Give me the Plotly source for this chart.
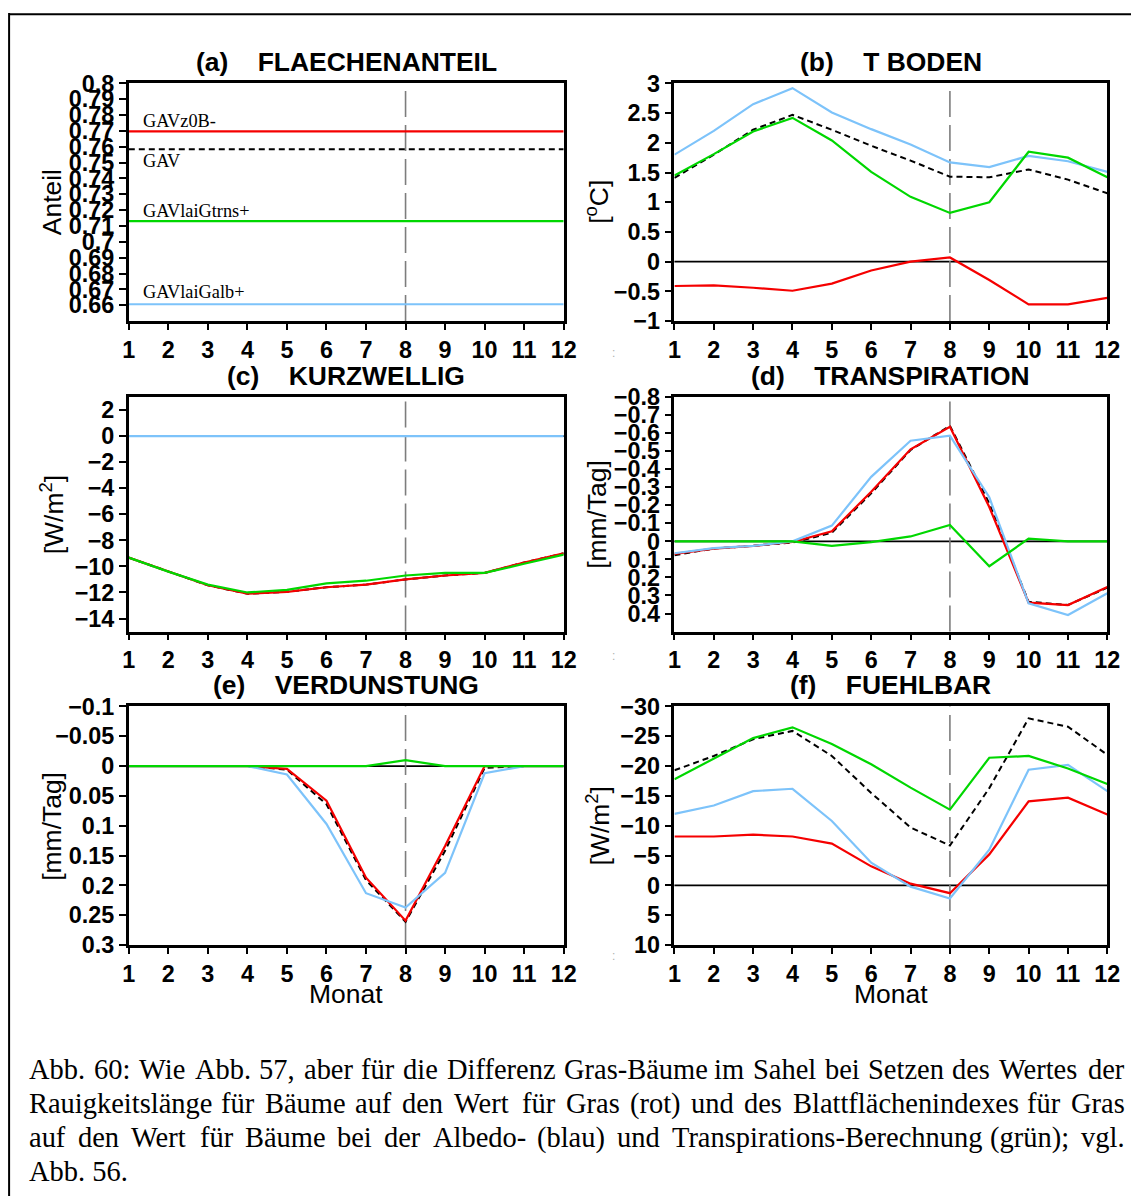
import plotly.graph_objects as go

# ---------------- data ----------------
months = [1, 2, 3, 4, 5, 6, 7, 8, 9, 10, 11, 12]
month_labels = ["1", "2", "3", "4", "5", "6", "7", "8", "9", "10", "11", "12"]

# (a) FLAECHENANTEIL
a_gav = [0.7585, 0.7585, 0.7585, 0.7585, 0.7585, 0.7585, 0.7585, 0.7585, 0.7585, 0.7585, 0.7585, 0.7585]
a_z0b = [0.7697, 0.7697, 0.7697, 0.7697, 0.7697, 0.7697, 0.7697, 0.7697, 0.7697, 0.7697, 0.7697, 0.7697]
a_galb = [0.6606, 0.6606, 0.6606, 0.6606, 0.6606, 0.6606, 0.6606, 0.6606, 0.6606, 0.6606, 0.6606, 0.6606]
a_gtrns = [0.7131, 0.7131, 0.7131, 0.7131, 0.7131, 0.7131, 0.7131, 0.7131, 0.7131, 0.7131, 0.7131, 0.7131]

# (b) T BODEN
b_gav = [1.41, 1.80, 2.22, 2.47, 2.22, 1.95, 1.70, 1.43, 1.42, 1.55, 1.38, 1.15]
b_z0b = [-0.41, -0.40, -0.44, -0.49, -0.37, -0.15, 0.00, 0.07, -0.31, -0.72, -0.72, -0.61]
b_galb = [1.80, 2.20, 2.65, 2.92, 2.51, 2.23, 1.97, 1.67, 1.59, 1.78, 1.69, 1.51]
b_gtrns = [1.45, 1.81, 2.19, 2.42, 2.04, 1.51, 1.09, 0.82, 1.00, 1.85, 1.75, 1.42]

# (c) KURZWELLIG
c_gav = [-9.33, -10.40, -11.45, -12.10, -11.95, -11.60, -11.40, -11.00, -10.70, -10.50, -9.70, -9.00]
c_z0b = [-9.33, -10.40, -11.45, -12.10, -11.95, -11.60, -11.40, -11.00, -10.70, -10.50, -9.70, -9.00]
c_galb = [0, 0, 0, 0, 0, 0, 0, 0, 0, 0, 0, 0]
c_gtrns = [-9.33, -10.40, -11.40, -12.00, -11.80, -11.30, -11.10, -10.70, -10.50, -10.50, -9.80, -9.10]

# (d) TRANSPIRATION
d_gav = [0.077, 0.040, 0.025, 0.007, -0.047, -0.266, -0.506, -0.640, -0.210, 0.335, 0.353, 0.257]
d_z0b = [0.070, 0.040, 0.025, 0.004, -0.055, -0.275, -0.510, -0.634, -0.190, 0.340, 0.353, 0.253]
d_galb = [0.066, 0.038, 0.025, 0.000, -0.087, -0.357, -0.557, -0.585, -0.244, 0.344, 0.408, 0.288]
d_gtrns = [0, 0, 0, 0, 0.025, 0.004, -0.027, -0.091, 0.138, -0.015, 0, 0]

# (e) VERDUNSTUNG
e_gav = [0, 0, 0, 0, 0.006, 0.064, 0.191, 0.261, 0.142, 0.003, 0, 0]
e_z0b = [0, 0, 0, 0, 0.0045, 0.058, 0.187, 0.259, 0.134, 0, 0, 0]
e_galb = [0, 0, 0, 0, 0.014, 0.097, 0.213, 0.237, 0.179, 0.012, 0, 0]
e_gtrns = [0, 0, 0, 0, 0, 0, 0, -0.010, 0, 0, 0, 0]

# (f) FUEHLBAR
f_gav = [-19.3, -21.7, -24.5, -25.9, -21.7, -15.5, -9.7, -6.7, -16.3, -28.0, -26.6, -21.9]
f_z0b = [-8.2, -8.2, -8.5, -8.2, -7.0, -3.2, -0.3, 1.3, -5.2, -14.1, -14.7, -11.9]
f_galb = [-12.0, -13.4, -15.8, -16.2, -10.8, -3.8, 0.2, 2.2, -6.0, -19.4, -20.2, -15.8]
f_gtrns = [-17.8, -21.3, -24.7, -26.5, -23.7, -20.3, -16.4, -12.7, -21.4, -21.7, -19.6, -17.0]

# tick labels
a_ticks = [0.66, 0.67, 0.68, 0.69, 0.70, 0.71, 0.72, 0.73, 0.74, 0.75, 0.76, 0.77, 0.78, 0.79, 0.80]
a_ticktext = ["0.66", "0.67", "0.68", "0.69", "0.7", "0.71", "0.72", "0.73", "0.74", "0.75", "0.76", "0.77", "0.78", "0.79", "0.8"]
b_ticks = [-1, -0.5, 0, 0.5, 1, 1.5, 2, 2.5, 3]
b_ticktext = ["\u22121", "\u22120.5", "0", "0.5", "1", "1.5", "2", "2.5", "3"]
c_ticks = [-14, -12, -10, -8, -6, -4, -2, 0, 2]
c_ticktext = ["\u221214", "\u221212", "\u221210", "\u22128", "\u22126", "\u22124", "\u22122", "0", "2"]
d_ticks = [-0.8, -0.7, -0.6, -0.5, -0.4, -0.3, -0.2, -0.1, 0, 0.1, 0.2, 0.3, 0.4]
d_ticktext = ["\u22120.8", "\u22120.7", "\u22120.6", "\u22120.5", "\u22120.4", "\u22120.3", "\u22120.2", "\u22120.1",
              "0", "0.1", "0.2", "0.3", "0.4"]
e_ticks = [-0.1, -0.05, 0, 0.05, 0.1, 0.15, 0.2, 0.25, 0.3]
e_ticktext = ["\u22120.1", "\u22120.05", "0", "0.05", "0.1", "0.15", "0.2", "0.25", "0.3"]
f_ticks = [-30, -25, -20, -15, -10, -5, 0, 5, 10]
f_ticktext = ["\u221230", "\u221225", "\u221220", "\u221215", "\u221210", "\u22125", "0", "5", "10"]

caption_lines = [
    "Abb. 60: Wie Abb. 57, aber für die Differenz Gras-Bäume im Sahel bei Setzen des Wertes der",
    "Rauigkeitslänge für Bäume auf den Wert für Gras (rot) und des Blattflächenindexes für Gras",
    "auf den Wert für Bäume bei der Albedo- (blau) und Transpirations-Berechnung (grün); vgl.",
    "Abb. 56.",
]

# ---------------- styling / layout ----------------
# The photographed page shows the figure slightly offset and shrunk; these
# constants map the target picture's pixel positions onto figure pixels.
OX, SX = 4.9, 0.985
OY, SY = 11.5, 0.98
FS = 1.0 / 0.983          # font compensation for the shrink
W, H = 1145, 1210

RED = "rgb(245,0,0)"
GREEN = "rgb(0,215,0)"
BLUE = "rgb(125,195,250)"
BLACK = "black"
SANS = "Liberation Sans"
SERIF = "Liberation Serif"

# target-picture pixel positions of the plot frames
cols_px = [(127, 563), (674, 1108)]
rows_px = [(82, 320), (396, 631), (706, 945)]

panels = [
    dict(t="(a)", name="FLAECHENANTEIL", s=(a_gav, a_z0b, a_galb, a_gtrns), rng=[0.65, 0.8],
         tv=a_ticks, tt=a_ticktext, yt="Anteil", r=0, c=0, zero=False),
    dict(t="(b)", name="T BODEN", s=(b_gav, b_z0b, b_galb, b_gtrns), rng=[-1, 3],
         tv=b_ticks, tt=b_ticktext, yt="[<sup>o</sup>C]", r=0, c=1, zero=True),
    dict(t="(c)", name="KURZWELLIG", s=(c_gav, c_z0b, c_galb, c_gtrns), rng=[-15, 3],
         tv=c_ticks, tt=c_ticktext, yt="[W/m<sup>2</sup>]", r=1, c=0, zero=True),
    dict(t="(d)", name="TRANSPIRATION", s=(d_gav, d_z0b, d_galb, d_gtrns), rng=[0.5, -0.8],
         tv=d_ticks, tt=d_ticktext, yt="[mm/Tag]", r=1, c=1, zero=True),
    dict(t="(e)", name="VERDUNSTUNG", s=(e_gav, e_z0b, e_galb, e_gtrns), rng=[0.3, -0.1],
         tv=e_ticks, tt=e_ticktext, yt="[mm/Tag]", r=2, c=0, zero=True),
    dict(t="(f)", name="FUEHLBAR", s=(f_gav, f_z0b, f_galb, f_gtrns), rng=[10, -30],
         tv=f_ticks, tt=f_ticktext, yt="[W/m<sup>2</sup>]", r=2, c=1, zero=True),
]

fig = go.Figure()
layout = dict(width=W, height=H, margin=dict(l=0, r=0, t=0, b=0),
              paper_bgcolor="white", plot_bgcolor="white", showlegend=False)
shapes = []
annotations = []

def px_x(x):
    return max(0.0, min(1.0, ((x - OX) / SX) / W))

def px_y(y):
    return max(0.0, min(1.0, 1 - ((y - OY) / SY) / H))

axis_common = dict(showline=True, linecolor="black", linewidth=2.5, mirror=True,
                   ticks="outside", tickcolor="black", tickwidth=2, showgrid=False,
                   zeroline=False, fixedrange=True,
                   tickfont=dict(family=SANS, size=23 * FS, color="black", weight="bold"))

for i, p in enumerate(panels):
    n = i + 1
    xa = "x" if n == 1 else f"x{n}"
    ya = "y" if n == 1 else f"y{n}"
    x0, x1 = cols_px[p["c"]]
    y0, y1 = rows_px[p["r"]]
    layout["xaxis" if n == 1 else f"xaxis{n}"] = dict(
        axis_common, domain=[px_x(x0), px_x(x1)], anchor=ya, range=[1, 12],
        tickvals=months, ticktext=month_labels, ticklen=6)
    layout["yaxis" if n == 1 else f"yaxis{n}"] = dict(
        axis_common, domain=[px_y(y1), px_y(y0)], anchor=xa, range=p["rng"],
        tickvals=p["tv"], ticktext=p["tt"], ticklen=7)

    # zero line and the month-8 marker line
    if p["zero"]:
        shapes.append(dict(type="line", xref=f"{xa} domain", yref=ya, x0=0, x1=1, y0=0, y1=0,
                           line=dict(color="black", width=1.8), layer="below"))
    shapes.append(dict(type="line", xref=xa, yref=f"{ya} domain", x0=8, x1=8, y0=0, y1=1,
                       line=dict(color="rgb(125,125,125)", width=1.6, dash="26px,8px"), layer="below"))

    gav, z0b, galb, gtrns = p["s"]
    fig.add_trace(go.Scatter(x=months, y=gav, mode="lines", xaxis=xa, yaxis=ya,
                             line=dict(color=BLACK, width=2, dash="6px,4px")))
    fig.add_trace(go.Scatter(x=months, y=z0b, mode="lines", xaxis=xa, yaxis=ya,
                             line=dict(color=RED, width=2.2)))
    fig.add_trace(go.Scatter(x=months, y=galb, mode="lines", xaxis=xa, yaxis=ya,
                             line=dict(color=BLUE, width=2.2)))
    fig.add_trace(go.Scatter(x=months, y=gtrns, mode="lines", xaxis=xa, yaxis=ya,
                             line=dict(color=GREEN, width=2.2)))

    # panel title
    cx = (x0 + x1) / 2
    ty = y0 - 21
    annotations.append(dict(xref="paper", yref="paper", x=px_x(cx), y=px_y(ty),
                            text=p["t"] + "\u00a0\u00a0\u00a0\u00a0" + p["name"], showarrow=False,
                            xanchor="center", yanchor="middle",
                            font=dict(family=SANS, size=26 * FS, color="black", weight="bold")))
    # y-axis title
    ytx = 50 if p["c"] == 0 else 597
    annotations.append(dict(xref="paper", yref="paper", x=px_x(ytx), y=px_y((y0 + y1) / 2),
                            text=p["yt"], showarrow=False, textangle=-90,
                            xanchor="center", yanchor="middle",
                            font=dict(family=SANS, size=26 * FS, color="black")))
    if p["r"] == 2:
        annotations.append(dict(xref="paper", yref="paper", x=px_x(cx), y=px_y(994),
                                text="Monat", showarrow=False, xanchor="center", yanchor="middle",
                                font=dict(family=SANS, size=26 * FS, color="black")))

# labels inside panel (a)
for txt, val, shift in [("GAVz0B-", a_z0b[0], 10), ("GAV", a_gav[0], -12),
                        ("GAVlaiGtrns+", a_gtrns[0], 10), ("GAVlaiGalb+", a_galb[0], 12)]:
    annotations.append(dict(xref="x", yref="y", x=1.3, y=val, yshift=shift, text=txt,
                            showarrow=False, xanchor="left", yanchor="middle",
                            font=dict(family=SERIF, size=18 * FS, color="black")))

# faint separator marks between the columns
for yy in (343, 655, 965):
    annotations.append(dict(xref="paper", yref="paper", x=px_x(613), y=px_y(yy), text=":",
                            showarrow=False, font=dict(family=SANS, size=12, color="#b0b0b0")))

# caption (justified like the original)
TIMES = {" ": 250, "!": 333, "(": 333, ")": 333, ",": 250, "-": 333, ".": 250, ":": 278, ";": 278,
         "A": 722, "B": 667, "C": 667, "D": 722, "E": 611, "F": 556, "G": 722, "H": 722, "I": 333,
         "J": 389, "K": 722, "L": 611, "M": 889, "N": 722, "O": 722, "P": 556, "Q": 722, "R": 667,
         "S": 556, "T": 611, "U": 722, "V": 722, "W": 944, "X": 722, "Y": 722, "Z": 611,
         "a": 444, "b": 500, "c": 444, "d": 500, "e": 444, "f": 333, "g": 500, "h": 500, "i": 278,
         "j": 278, "k": 500, "l": 278, "m": 778, "n": 500, "o": 500, "p": 500, "q": 500, "r": 333,
         "s": 389, "t": 278, "u": 500, "v": 500, "w": 722, "x": 500, "y": 500, "z": 444,
         "ä": 444, "ö": 500, "ü": 500}
CAP_SIZE = 28
CAP_LEFT, CAP_RIGHT = 25, 1122
cap_y = [1070, 1104, 1138, 1172]

def tw(s):
    # width in target-picture pixels
    return sum(TIMES.get(ch, 500) for ch in s) / 1000 * CAP_SIZE

for li, line in enumerate(caption_lines):
    words = line.split(" ")
    if li < len(caption_lines) - 1 and len(words) > 1:
        widths = [tw(w) for w in words]
        gap = (CAP_RIGHT - CAP_LEFT - sum(widths)) / (len(words) - 1)
        xpos = CAP_LEFT
        for w, wd in zip(words, widths):
            annotations.append(dict(xref="paper", yref="paper", x=px_x(xpos), y=px_y(cap_y[li]),
                                    text=w, showarrow=False, xanchor="left", yanchor="middle",
                                    font=dict(family=SERIF, size=CAP_SIZE * FS, color="black")))
            xpos += wd + gap
    else:
        annotations.append(dict(xref="paper", yref="paper", x=px_x(CAP_LEFT), y=px_y(cap_y[li]),
                                text=line, showarrow=False, xanchor="left", yanchor="middle",
                                font=dict(family=SERIF, size=CAP_SIZE * FS, color="black")))

# outer frame (left and top edges visible)
shapes.append(dict(type="line", xref="paper", yref="paper", x0=px_x(7), x1=px_x(7), y0=0, y1=px_y(6),
                   line=dict(color="black", width=2)))
shapes.append(dict(type="line", xref="paper", yref="paper", x0=px_x(7), x1=1, y0=0.999, y1=0.999,
                   line=dict(color="black", width=2)))

layout["shapes"] = shapes
layout["annotations"] = annotations
fig.update_layout(**layout)
fig.write_html("out.html")
